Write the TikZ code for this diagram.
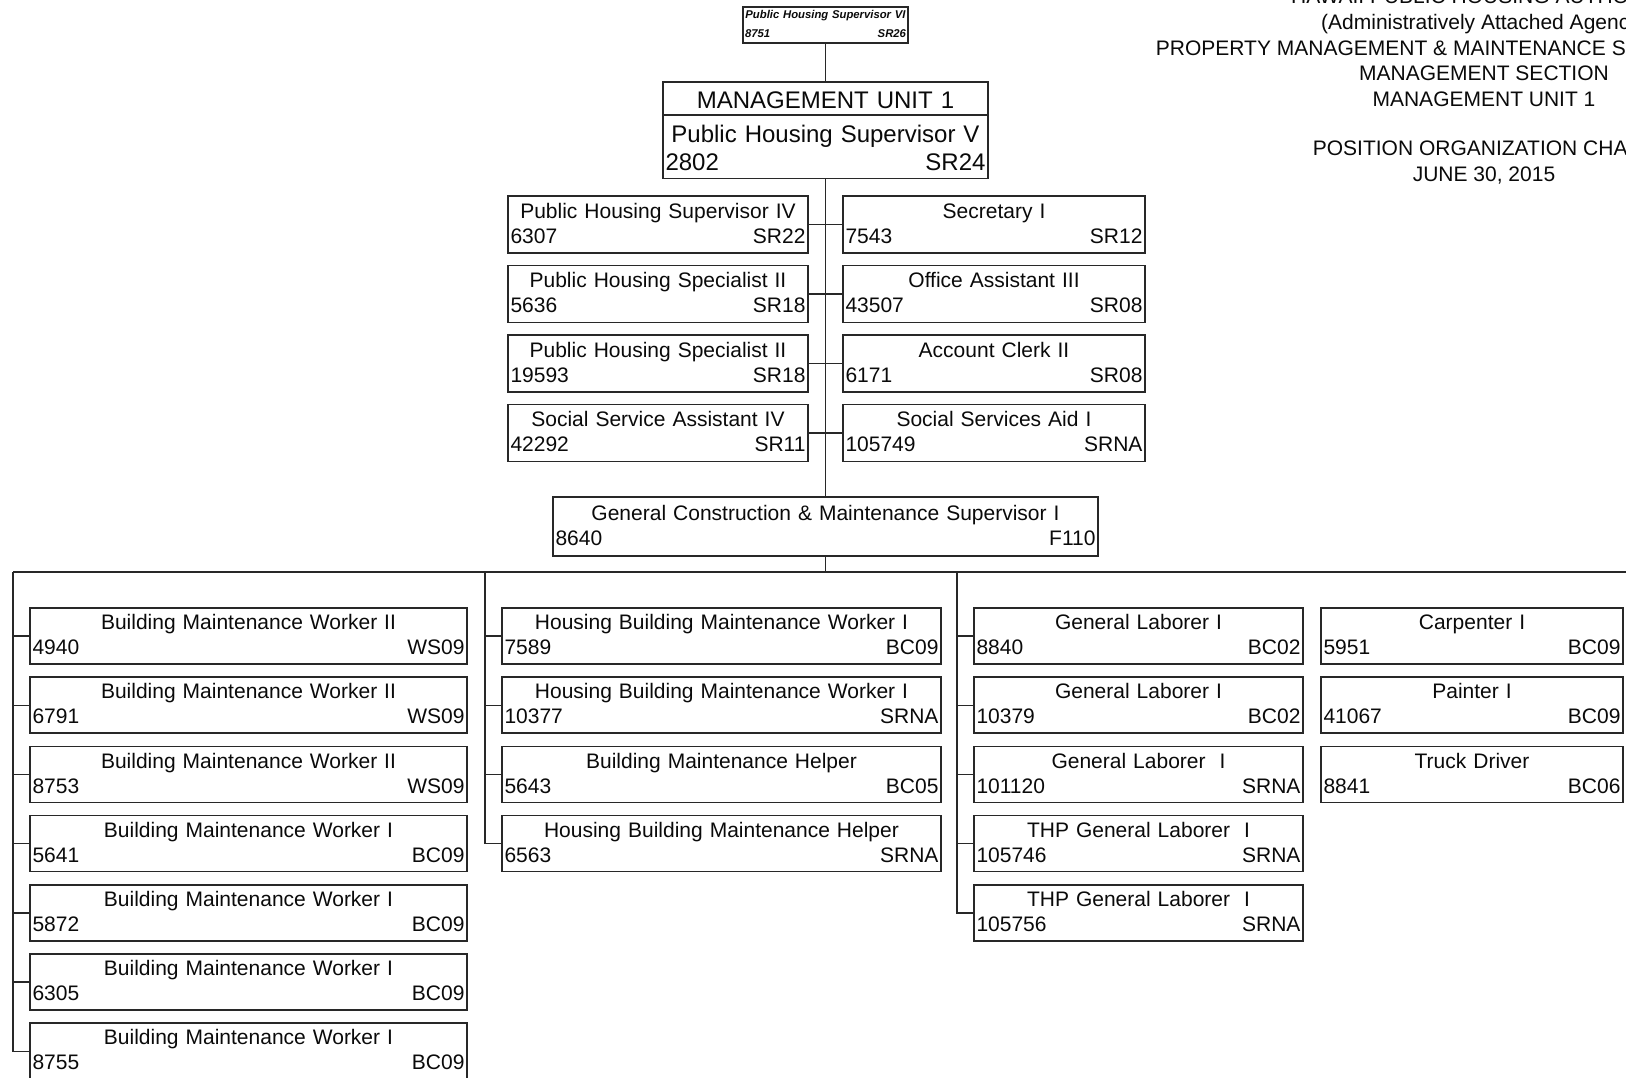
\documentclass[tikz,border=0pt]{standalone}
\usepackage{fontspec}
\setmainfont{Liberation Sans}
\usetikzlibrary{positioning,shapes.multipart}
\definecolor{linecol}{RGB}{40,40,40}
\definecolor{txtcol} {RGB}{10,10,10}
\newcommand{\posfont}{\fontsize{21}{25}\selectfont}
\newcommand{\rs}{\rule[-5pt]{0pt}{22.5pt}}
\newcommand{\job}[3]{\rs #1\\\rs\makebox[\hsize]{#2\hfill #3}}
\tikzset{
  posbox/.style ={draw=linecol, line width=1.7pt, outer sep=0pt, inner xsep=2.5pt,
                  inner ysep=0pt, text width=#1, align=center, minimum height=57pt,
                  font=\posfont, text=txtcol},
  crewbox/.style={posbox=#1, minimum height=56pt},
  conn/.style   ={draw=linecol, line width=1.4pt},
}

\begin{document}
\begin{tikzpicture}[x=1pt, y=-1pt,
  topbox/.style={draw=linecol, line width=1.3pt, outer sep=0pt, inner xsep=2pt,
                 inner ysep=0pt, text width=161pt, align=center, minimum height=36pt,
                 font=\fontsize{11.3}{19}\selectfont\bfseries\itshape, text=txtcol},
  unitbox/.style={rectangle split, rectangle split parts=2, draw=linecol,
                  line width=1.7pt, outer sep=0pt, inner xsep=2.5pt, inner ysep=0pt,
                  text width=320pt, align=center, font=\fontsize{24}{28}\selectfont,
                  text=txtcol},
  hdr/.style={align=center, inner sep=0pt, font=\fontsize{21}{25.9}\selectfont,
              text=txtcol}
]
\useasboundingbox (0,0) rectangle (1626,1078);
\clip (0,0) rectangle (1626,1078);

%% Title block
\node[hdr, anchor=north] (title) at (1484,-11.6)
  {HAWAII PUBLIC HOUSING AUTHORITY\\(Administratively Attached Agency)\\
   PROPERTY MANAGEMENT \& MAINTENANCE SERVICES BRANCH\\MANAGEMENT SECTION\\
   MANAGEMENT UNIT 1\\[22.8pt]POSITION ORGANIZATION CHART\\JUNE 30, 2015};

%% Supervisor and unit head
\node[topbox, anchor=north] (phs6) at (825.5,7)
  {\rule{0pt}{9pt}Public Housing Supervisor VI\\\makebox[\hsize]{8751\hfill SR26}\rule[-2pt]{0pt}{2pt}};

\node[unitbox, below=39pt of phs6] (mu1)
  {\rule[-5pt]{0pt}{31pt}MANAGEMENT UNIT 1
   \nodepart{two}\rule{0pt}{27.3pt}Public Housing Supervisor V\\
   \makebox[\hsize]{2802\hfill SR24}\rule[-6.7pt]{0pt}{6.7pt}};

%% Staff
\node[posbox=295pt, anchor=north west] (phs4) at (508,196)
  {\job{Public Housing Supervisor IV}{6307}{SR22}};
\node[posbox=295pt, below=12.5pt of phs4]  (phsp1) {\job{Public Housing Specialist II}{5636}{SR18}};
\node[posbox=295pt, below=12.5pt of phsp1] (phsp2) {\job{Public Housing Specialist II}{19593}{SR18}};
\node[posbox=295pt, below=12.5pt of phsp2] (ssa4)  {\job{Social Service Assistant IV}{42292}{SR11}};

\node[posbox=297pt, right=35pt of phs4]  (sec1)  {\job{Secretary I}{7543}{SR12}};
\node[posbox=297pt, right=35pt of phsp1] (oa3)   {\job{Office Assistant III}{43507}{SR08}};
\node[posbox=297pt, right=35pt of phsp2] (ac2)   {\job{Account Clerk II}{6171}{SR08}};
\node[posbox=297pt, right=35pt of ssa4]  (ssaid) {\job{Social Services Aid I}{105749}{SRNA}};

%% Maintenance supervisor
\node[posbox=540pt, minimum height=59pt, anchor=north] (gcms) at (825.5,497)
  {\job{General Construction \& Maintenance Supervisor I}{8640}{F110}};

%% Bus points
\coordinate (bus)  at (825.5,572);
\coordinate (busA) at (13,572);
\coordinate (busB) at (485,572);
\coordinate (busC) at (957,572);
\coordinate (busE) at (1626,572);

%% Column 1
\node[crewbox=432pt, anchor=north west] (bmw1) at (30,608)
  {\job{Building Maintenance Worker II}{4940}{WS09}};
\node[crewbox=432pt, below=13.2pt of bmw1] (bmw2) {\job{Building Maintenance Worker II}{6791}{WS09}};
\node[crewbox=432pt, below=13.2pt of bmw2] (bmw3) {\job{Building Maintenance Worker II}{8753}{WS09}};
\node[crewbox=432pt, below=13.2pt of bmw3] (bmw4) {\job{Building Maintenance Worker I}{5641}{BC09}};
\node[crewbox=432pt, below=13.2pt of bmw4] (bmw5) {\job{Building Maintenance Worker I}{5872}{BC09}};
\node[crewbox=432pt, below=13.2pt of bmw5] (bmw6) {\job{Building Maintenance Worker I}{6305}{BC09}};
\node[crewbox=432pt, below=13.2pt of bmw6] (bmw7) {\job{Building Maintenance Worker I}{8755}{BC09}};

%% Column 2
\node[crewbox=434pt, right=35pt of bmw1] (hbw1) {\job{Housing Building Maintenance Worker I}{7589}{BC09}};
\node[crewbox=434pt, right=35pt of bmw2] (hbw2) {\job{Housing Building Maintenance Worker I}{10377}{SRNA}};
\node[crewbox=434pt, right=35pt of bmw3] (bmh)  {\job{Building Maintenance Helper}{5643}{BC05}};
\node[crewbox=434pt, right=35pt of bmw4] (hbmh) {\job{Housing Building Maintenance Helper}{6563}{SRNA}};

%% Column 3
\node[crewbox=324pt, right=33pt of hbw1] (gl1)  {\job{General Laborer I}{8840}{BC02}};
\node[crewbox=324pt, right=33pt of hbw2] (gl2)  {\job{General Laborer I}{10379}{BC02}};
\node[crewbox=324pt, right=33pt of bmh]  (gl3)  {\job{General Laborer \ I}{101120}{SRNA}};
\node[crewbox=324pt, right=33pt of hbmh] (thp1) {\job{THP General Laborer \ I}{105746}{SRNA}};
\node[crewbox=324pt, below=13.2pt of thp1] (thp2) {\job{THP General Laborer \ I}{105756}{SRNA}};

%% Column 4
\node[crewbox=297pt, right=18pt of gl1] (carp)  {\job{Carpenter I}{5951}{BC09}};
\node[crewbox=297pt, right=18pt of gl2] (paint) {\job{Painter I}{41067}{BC09}};
\node[crewbox=297pt, right=18pt of gl3] (truck) {\job{Truck Driver}{8841}{BC06}};

%% Main line
\draw[conn] (phs6.south) -- (mu1.north);
\draw[conn] (mu1.south)  -- (gcms.north);
\draw[conn] (gcms.south) -- (bus);

%% Staff links
\draw[conn] (phs4.east)  -- (sec1.west);
\draw[conn] (phsp1.east) -- (oa3.west);
\draw[conn] (phsp2.east) -- (ac2.west);
\draw[conn] (ssa4.east)  -- (ssaid.west);

%% Crew links
\draw[conn] (busA) -- (busE);
\draw[conn] (busA) |- (bmw1.west);
\draw[conn] (busA) |- (bmw2.west);
\draw[conn] (busA) |- (bmw3.west);
\draw[conn] (busA) |- (bmw4.west);
\draw[conn] (busA) |- (bmw5.west);
\draw[conn] (busA) |- (bmw6.west);
\draw[conn] (busA) |- (bmw7.west);
\draw[conn] (busB) |- (hbw1.west);
\draw[conn] (busB) |- (hbw2.west);
\draw[conn] (busB) |- (bmh.west);
\draw[conn] (busB) |- (hbmh.west);
\draw[conn] (busC) |- (gl1.west);
\draw[conn] (busC) |- (gl2.west);
\draw[conn] (busC) |- (gl3.west);
\draw[conn] (busC) |- (thp1.west);
\draw[conn] (busC) |- (thp2.west);

\end{tikzpicture}
\end{document}
